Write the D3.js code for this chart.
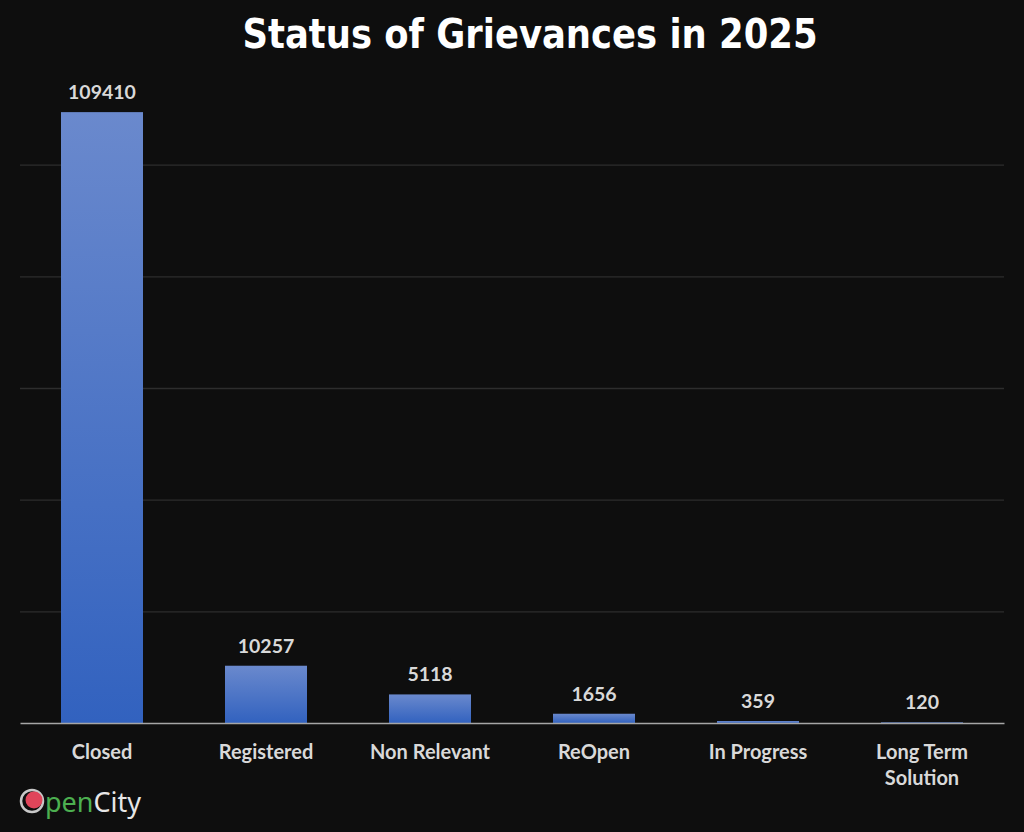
<!DOCTYPE html>
<html>
<head>
<meta charset="utf-8">
<script src="https://cdn.jsdelivr.net/npm/d3@7"></script>
<style>
  html, body { margin: 0; padding: 0; background: #0e0e0e; }
</style>
</head>
<body>
<div id="chart"></div>
<script>
// Chart data
const categories = ["Closed", "Registered", "Non Relevant", "ReOpen", "In Progress", "Long Term Solution"];
const counts = [109410, 10257, 5118, 1656, 359, 120];
const gridTicks = [20000, 40000, 60000, 80000, 100000];

const width = 1024;
const height = 832;
const marginLeft = 20;
const marginRight = 20;
const axisY = 723;
const plotTop = 53;

const svg = d3.select("#chart")
              .append("svg")
              .attr("width", width)
              .attr("height", height);

svg.append("rect")
   .attr("width", width)
   .attr("height", height)
   .attr("fill", "#0e0e0e");

// bar gradient
const grad = svg.append("defs")
                .append("linearGradient")
                .attr("id", "barGrad")
                .attr("x1", 0).attr("y1", 0)
                .attr("x2", 0).attr("y2", 1);
grad.append("stop").attr("offset", "0%").attr("stop-color", "#6a89cd");
grad.append("stop").attr("offset", "100%").attr("stop-color", "#3262bf");

// Scales
const xScale = d3.scaleBand()
                 .domain(categories)
                 .range([marginLeft, width - marginRight])
                 .paddingInner(0.5)
                 .paddingOuter(0.25);

const yScale = d3.scaleLinear()
                 .domain([0, 120000])
                 .range([axisY, plotTop]);

// Gridlines
const grid = d3.axisLeft(yScale)
               .tickValues(gridTicks)
               .tickSize(-(width - marginLeft - marginRight))
               .tickFormat("");
svg.append("g")
   .attr("transform", `translate(${marginLeft},0)`)
   .call(grid)
   .call(g => g.select(".domain").remove())
   .call(g => g.selectAll("line").attr("stroke", "#2d2d2d").attr("stroke-width", 1.3));

// Title
svg.append("text")
   .attr("x", 530)
   .attr("y", 48)
   .attr("text-anchor", "middle")
   .attr("font-family", "'Liberation Sans Narrow', 'DejaVu Sans Condensed', sans-serif")
   .attr("font-weight", "bold")
   .attr("font-size", 40)
   .attr("fill", "#ffffff")
   .attr("textLength", 575)
   .attr("lengthAdjust", "spacingAndGlyphs")
   .text("Status of Grievances in 2025");

const data = categories.map((c, i) => ({ name: c, value: counts[i] }));

// Bars
svg.selectAll("rect.bar")
   .data(data)
   .enter()
   .append("rect")
   .attr("class", "bar")
   .attr("x", d => xScale(d.name))
   .attr("y", d => yScale(d.value))
   .attr("width", xScale.bandwidth())
   .attr("height", d => axisY - yScale(d.value))
   .attr("fill", "url(#barGrad)");

// Value labels
svg.selectAll("text.value")
   .data(data)
   .enter()
   .append("text")
   .attr("class", "value")
   .attr("x", d => xScale(d.name) + xScale.bandwidth() / 2)
   .attr("y", d => yScale(d.value) - 13)
   .attr("text-anchor", "middle")
   .attr("font-family", "Lato, 'Open Sans', sans-serif")
   .attr("font-weight", "bold")
   .attr("font-size", 19.5)
   .attr("fill", "#d9d9d9")
   .text(d => d.value);

// X axis
const xAxis = d3.axisBottom(xScale).tickSize(0).tickFormat("");
svg.append("g")
   .attr("transform", `translate(0, ${axisY})`)
   .call(xAxis)
   .call(g => g.select(".domain").attr("stroke", "#a6a6a6").attr("stroke-width", 1.5));

// category labels, wrapped like the original
const wrapLines = name => name === "Long Term Solution" ? ["Long Term", "Solution"] : [name];
svg.selectAll("text.cat")
   .data(data)
   .enter()
   .append("text")
   .attr("class", "cat")
   .attr("x", d => xScale(d.name) + xScale.bandwidth() / 2)
   .attr("y", 759)
   .attr("text-anchor", "middle")
   .attr("font-family", "Lato, 'Open Sans', sans-serif")
   .attr("font-weight", "bold")
   .attr("font-size", 20)
   .attr("fill", "#d9d9d9")
   .each(function(d) {
       const t = d3.select(this);
       wrapLines(d.name).forEach((line, i) => {
           t.append("tspan")
            .attr("x", xScale(d.name) + xScale.bandwidth() / 2)
            .attr("dy", i === 0 ? 0 : 26)
            .text(line);
       });
   });

// OpenCity logo
const logo = svg.append("g").attr("transform", "translate(20, 788)");
logo.append("circle")
    .attr("cx", 12).attr("cy", 13).attr("r", 11)
    .attr("fill", "none").attr("stroke", "#c8c8c8").attr("stroke-width", 2.5);
logo.append("circle")
    .attr("cx", 14).attr("cy", 12).attr("r", 8.5)
    .attr("fill", "#e0455a");
const logoText = logo.append("text")
    .attr("x", 25)
    .attr("y", 24)
    .attr("font-family", "'Noto Sans', sans-serif")
    .attr("font-size", 27);
logoText.append("tspan").attr("fill", "#4caf50").text("pen");
logoText.append("tspan").attr("fill", "#e6e6e6").text("City");
</script>
</body>
</html>
